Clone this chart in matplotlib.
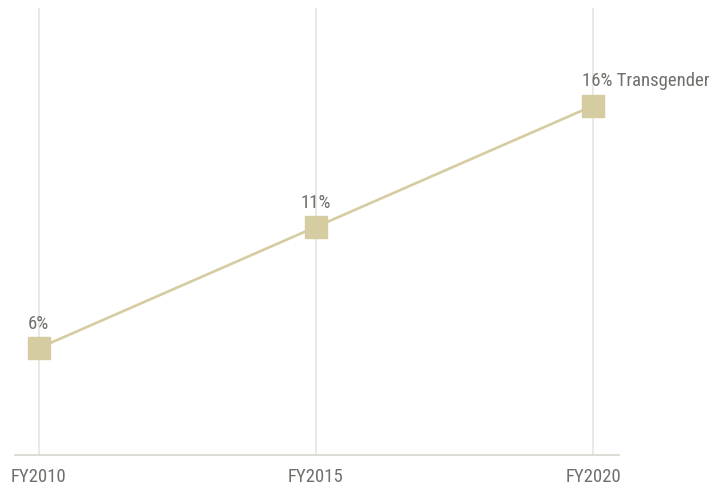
import matplotlib
matplotlib.use("Agg")
import matplotlib.pyplot as plt
from matplotlib import font_manager

categories = ["FY2010", "FY2015", "FY2020"]
values = [6, 11, 16]
series_name = "Transgender"

names = {f.name for f in font_manager.fontManager.ttflist}
fam = "Roboto Condensed" if "Roboto Condensed" in names else "Roboto"
plt.rcParams['font.family'] = [fam, 'DejaVu Sans']

text_color = "#6f6f6b"
line_color = "#d5cca1"

fig = plt.figure(figsize=(7.27, 4.87), dpi=100)
ax = fig.add_axes([15/727, 1-454.5/487, (619-15)/727, (454.5-8)/487])

x = list(range(len(categories)))
ax.plot(x, values, color=line_color, lw=1.9, marker="s", markersize=15.8,
        markerfacecolor=line_color, markeredgecolor=line_color, zorder=3)

ax.set_xlim(-0.0855, 2.093)
ax.set_ylim(1.61, 20.03)

for xi in x:
    ax.axvline(xi, color="#e3e3de", lw=1.1, zorder=1)

for spine in ["top", "right", "left"]:
    ax.spines[spine].set_visible(False)
ax.spines["bottom"].set_color("#d2d2cb")
ax.spines["bottom"].set_linewidth(1.1)

ax.set_yticks([])
ax.set_xticks(x)
ax.set_xticklabels(categories, fontsize=13.5, color=text_color)
ax.tick_params(axis="x", length=0, pad=10)

for i, (xi, v) in enumerate(zip(x, values)):
    if i == len(x) - 1:
        ax.annotate(f"{v}% {series_name}", (xi, v), xytext=(-8, 11),
                    textcoords="offset points", ha="left", va="bottom",
                    fontsize=13.5, color=text_color)
    else:
        ax.annotate(f"{v}%", (xi, v), xytext=(0, 11),
                    textcoords="offset points", ha="center", va="bottom",
                    fontsize=13.5, color=text_color)

fig.savefig("out.png", dpi=100)
